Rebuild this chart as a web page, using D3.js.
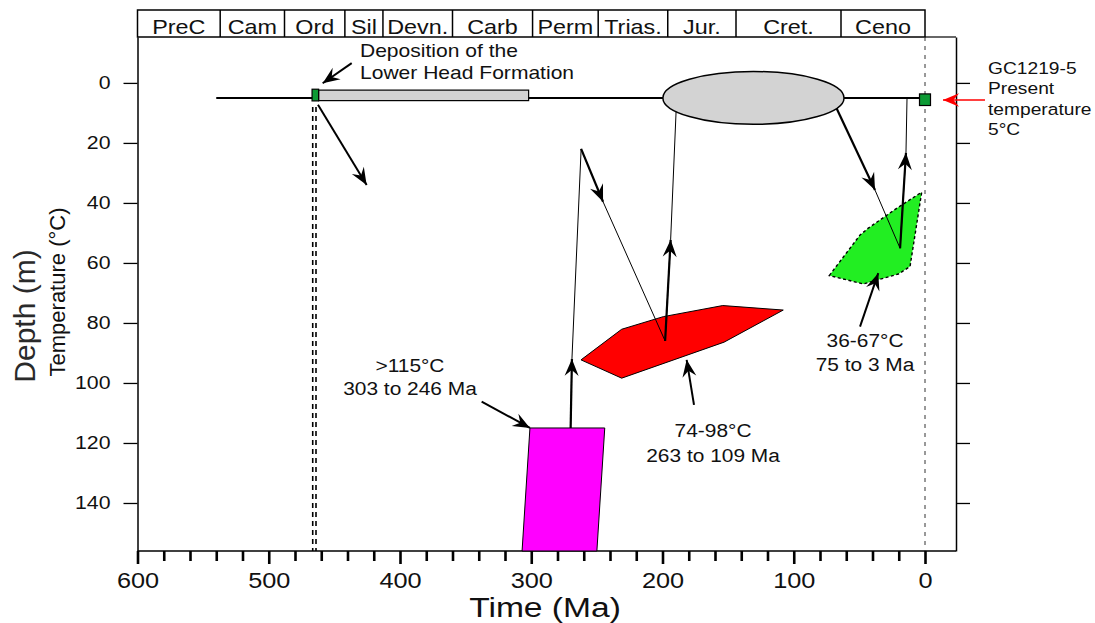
<!DOCTYPE html>
<html><head><meta charset="utf-8">
<script src="https://cdn.jsdelivr.net/npm/d3@7"></script>
<style>
body{margin:0;background:#fff;}
svg{display:block;font-family:"Liberation Sans",Arial,Helvetica,sans-serif;}
</style></head>
<body><svg id="c" width="1095" height="623"></svg>
<script>
// ---------- DATA ----------
const periods = ["PreC","Cam","Ord","Sil","Devn.","Carb","Perm","Trias.","Jur.","Cret.","Ceno"];
const periodBounds = [600,537,488,442,413,360,299,249,196,144,64,0];
const yTicks = [0,20,40,60,80,100,120,140];
const xMajorTicks = [600,500,400,300,200,100,0];
const xMinorTicks = d3.range(0,601,20).filter(v => v % 100 !== 0);

const burialLine = [[540,5],[0,5]];
const depositionMarker = [[467,2.1],[462,6]];
const depositionBar = [[462,2.4],[302,5.9]];
const depositionDash = [[466.5,8],[464,8]];
const reheatEllipse = {cx:130.7, cy:5, rx:69, ry:8.8};
const presentSample = [0,5.6];

const magentaBox = [[301,115],[244,115],[250,156],[307,156]];
const redBox = [[262.1,92.3],[231.1,82.1],[199.4,77.9],[154.1,74.2],[108,75.7],[153.1,86.4],[231.1,98.4]];
const greenBox = [[72.9,64.2],[49.5,50.7],[43.2,48.4],[21.6,41.8],[2.5,36.4],[11.4,61.2],[20.3,63.7],[47,67]];

const pathLeft = [[270,115],[269,92],[262,22],[245.3,39.6],[198,86],[193.8,52.3],[189.3,6]];
const pathLeftArrows = [[0,1],[2,3],[4,5]];
const pathRight = [[70,6],[38.1,35.7],[19,55.1],[14.5,23.3],[13.7,5]];
const pathRightArrows = [[0,1],[2,3]];

const noteArrows = [
  [[436.8,-6.6],[458.9,0.1]],
  [[462.5,7.3],[425.4,34]],
  [[337.8,106.2],[301,115]],
  [[176,107.3],[181.6,92.3]],
  [[49.5,81.2],[35.6,63.4]]
];
const presentArrow = [[-45.7,5.7],[-13.7,5.7]];

const notes = [
  {t:"Deposition of the", at:[430.5,-8.8], anchor:"start"},
  {t:"Lower Head Formation", at:[430.5,-1.3], anchor:"start"},
  {t:">115°C", at:[392.4,96.2], anchor:"middle"},
  {t:"303 to 246 Ma", at:[392.4,104], anchor:"middle"},
  {t:"74-98°C", at:[161.5,117.9], anchor:"middle"},
  {t:"263 to 109 Ma", at:[161.5,126.2], anchor:"middle"},
  {t:"36-67°C", at:[45.7,87.9], anchor:"middle"},
  {t:"75 to 3 Ma", at:[45.7,95.9], anchor:"middle"}
];
const sampleNotes = [
  {t:"GC1219-5", at:[-48,-3]},
  {t:"Present", at:[-48,3.7]},
  {t:"temperature", at:[-48,10.7]},
  {t:"5°C", at:[-48,17.3]}
];

// ---------- LAYOUT ----------
const svg = d3.select("#c");
const x = d3.scaleLinear().domain([600,0]).range([137.5,925]);
const y = d3.scaleLinear().domain([-15.3,156]).range([37,551]);
const frameRight = 956, plotTop = 37, plotBottom = 551, boxTop = 10;
const SX = 1.15;

function txt(g, px, py, s, size, anchor, sx){
  return g.append("text")
    .attr("transform", `translate(${px},${py}) scale(${sx||SX},1)`)
    .attr("text-anchor", anchor||"start")
    .attr("font-size", size).attr("fill","#111").text(s);
}

const defs = svg.append("defs");
function marker(id, color, s){
  defs.append("marker").attr("id",id)
    .attr("viewBox","-20 -9 22 18").attr("refX",0).attr("refY",0)
    .attr("markerWidth",22).attr("markerHeight",18)
    .attr("markerUnits","userSpaceOnUse").attr("orient","auto")
    .append("path").attr("d",`M0,0 L${-17*s},${-7*s} L${-11*s},0 L${-17*s},${7*s} Z`).attr("fill",color);
}
marker("ah","#000",1);
marker("ahr","#f00",0.95);

// period box
const pg = svg.append("g");
pg.append("rect").attr("x",x(600)).attr("y",boxTop).attr("width",x(0)-x(600)).attr("height",plotTop-boxTop)
  .attr("fill","none").attr("stroke","#000").attr("stroke-width",1.5);
periodBounds.slice(1,-1).forEach(b=>{
  pg.append("line").attr("x1",x(b)).attr("x2",x(b)).attr("y1",boxTop).attr("y2",plotTop)
    .attr("stroke","#000").attr("stroke-width",1.5);
});
periods.forEach((p,i)=>{
  const cx = (x(periodBounds[i])+x(periodBounds[i+1]))/2;
  txt(pg, cx, 34, p, 20.5, "middle", 1.14);
});

// frame lines
svg.append("line").attr("x1",x(0)).attr("x2",frameRight).attr("y1",plotTop).attr("y2",plotTop).attr("stroke","#000").attr("stroke-width",1.2);
svg.append("line").attr("x1",x(600)).attr("x2",frameRight).attr("y1",plotBottom).attr("y2",plotBottom).attr("stroke","#000").attr("stroke-width",1.5);

// left axis
const ga = svg.append("g").attr("transform",`translate(${x(600)},0)`)
  .call(d3.axisLeft(y).tickValues(yTicks).tickSize(14).tickSizeOuter(0).tickPadding(13));
ga.select(".domain").attr("stroke-width",1.5);
ga.selectAll(".tick line").attr("stroke-width",1.3);
ga.selectAll(".tick text").attr("font-size",18.5).attr("font-family",null).attr("fill","#111").each(function(){
  const t=d3.select(this); const xx=+t.attr("x"); t.attr("x",0).attr("transform",`translate(${xx},0) scale(${SX},1)`);
});
// right axis
const gr = svg.append("g").attr("transform",`translate(${frameRight},0)`)
  .call(d3.axisRight(y).tickValues(yTicks).tickSize(14).tickSizeOuter(0).tickFormat(""));
gr.select(".domain").attr("stroke-width",1.5);
gr.selectAll(".tick line").attr("stroke-width",1.3);

// bottom axis
const gbMinor = svg.append("g").attr("transform",`translate(0,${plotBottom})`)
  .call(d3.axisBottom(x).tickValues(xMinorTicks).tickSize(10).tickFormat(""));
gbMinor.select(".domain").remove();
gbMinor.selectAll(".tick line").attr("stroke-width",2.6);
const gb = svg.append("g").attr("transform",`translate(0,${plotBottom})`)
  .call(d3.axisBottom(x).tickValues(xMajorTicks).tickSize(13).tickPadding(8));
gb.select(".domain").remove();
gb.selectAll(".tick line").attr("stroke-width",2.6);
gb.selectAll(".tick text").attr("font-size",22).attr("font-family",null).attr("fill","#111").each(function(){
  const t=d3.select(this); const yy=+t.attr("y"); t.attr("y",0).attr("transform",`translate(0,${yy}) scale(${SX},1)`);
});

// axis titles
txt(svg, 545, 617, "Time (Ma)", 28, "middle", 1.2);
svg.append("text").attr("transform","translate(35,316) rotate(-90)").attr("text-anchor","middle")
  .attr("font-size",30).attr("fill","#2a2a2a").text("Depth (m)");
svg.append("text").attr("transform","translate(65,292) rotate(-90)").attr("text-anchor","middle")
  .attr("font-size",22).attr("fill","#111").text("Temperature (°C)");

// dashed lines
depositionDash.forEach(d=>{
  svg.append("line").attr("x1",x(d[0])).attr("x2",x(d[0])).attr("y1",y(d[1])).attr("y2",plotBottom)
    .attr("stroke","#000").attr("stroke-width",1.6).attr("stroke-dasharray","5,4");
});
svg.append("line").attr("x1",x(0)).attr("x2",x(0)).attr("y1",plotTop).attr("y2",plotBottom)
  .attr("stroke","#333").attr("stroke-width",1).attr("stroke-dasharray","4,5");

// polygons
const poly = d3.line().x(d=>x(d[0])).y(d=>y(d[1])).curve(d3.curveLinearClosed);
svg.append("path").attr("d",poly(magentaBox)).attr("fill","#ff00ff").attr("stroke","#000").attr("stroke-width",1);
svg.append("path").attr("d",poly(redBox)).attr("fill","#ff0000").attr("stroke","#000").attr("stroke-width",1);
svg.append("path").attr("d",poly(greenBox)).attr("fill","#22ee22").attr("stroke","#000").attr("stroke-width",1.4).attr("stroke-dasharray","3,2.5");

// burial line
const ln = d3.line().x(d=>x(d[0])).y(d=>y(d[1]));
svg.append("path").attr("d",ln(burialLine)).attr("stroke","#000").attr("stroke-width",2).attr("fill","none");

// thermal paths
function tpath(pts, arrows){
  svg.append("path").attr("d",ln(pts)).attr("stroke","#000").attr("stroke-width",1).attr("fill","none");
  arrows.forEach(([a,b])=>{
    svg.append("path").attr("d",ln([pts[a],pts[b]])).attr("stroke","#000").attr("stroke-width",2.2)
      .attr("fill","none").attr("marker-end","url(#ah)");
  });
}
tpath(pathLeft, pathLeftArrows);
tpath(pathRight, pathRightArrows);

// ellipse
svg.append("ellipse").attr("cx",x(reheatEllipse.cx)).attr("cy",y(reheatEllipse.cy))
  .attr("rx",Math.abs(x(reheatEllipse.cx+reheatEllipse.rx)-x(reheatEllipse.cx)))
  .attr("ry",Math.abs(y(reheatEllipse.cy+reheatEllipse.ry)-y(reheatEllipse.cy)))
  .attr("fill","#d3d3d3").attr("stroke","#000").attr("stroke-width",1.5);

// deposition bar & markers
svg.append("rect").attr("x",x(depositionBar[0][0])).attr("y",y(depositionBar[0][1]))
  .attr("width",x(depositionBar[1][0])-x(depositionBar[0][0])).attr("height",y(depositionBar[1][1])-y(depositionBar[0][1]))
  .attr("fill","#d3d3d3").attr("stroke","#000").attr("stroke-width",1.2);
svg.append("rect").attr("x",x(depositionMarker[0][0])).attr("y",y(depositionMarker[0][1]))
  .attr("width",x(depositionMarker[1][0])-x(depositionMarker[0][0])).attr("height",y(depositionMarker[1][1])-y(depositionMarker[0][1]))
  .attr("fill","#0c9a34").attr("stroke","#000").attr("stroke-width",1.2);
svg.append("rect").attr("x",x(presentSample[0])-5.5).attr("y",y(presentSample[1])-5.8).attr("width",11).attr("height",11.6)
  .attr("fill","#0c9a34").attr("stroke","#000").attr("stroke-width",1.2);

// annotation arrows
noteArrows.forEach(a=>{
  svg.append("path").attr("d",ln(a)).attr("stroke","#000").attr("stroke-width",2).attr("fill","none").attr("marker-end","url(#ah)");
});
svg.append("path").attr("d",ln(presentArrow)).attr("stroke","#f00").attr("stroke-width",1.6).attr("fill","none").attr("marker-end","url(#ahr)");

// notes
notes.forEach(n=>{
  const dep = n.t.startsWith("Dep")||n.t.startsWith("Low");
  txt(svg, x(n.at[0]), y(n.at[1]), n.t, dep ? 18 : 19, n.anchor, dep ? 1.17 : 1.1);
});
sampleNotes.forEach(n=>{
  txt(svg, x(n.at[0]), y(n.at[1]), n.t, 17, "start", 1.13);
});
</script></body></html>
